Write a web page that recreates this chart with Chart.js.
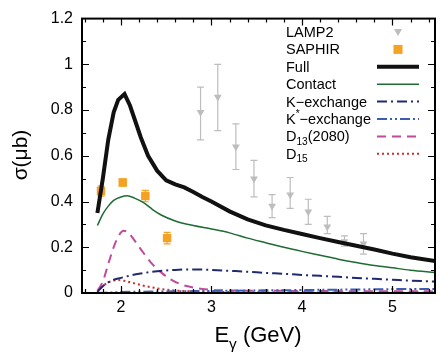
<!DOCTYPE html>
<html>
<head>
<meta charset="utf-8">
<script src="https://cdn.jsdelivr.net/npm/chart.js@4.4.1/dist/chart.umd.min.js"></script>
<style>
    body { margin: 0; background: #fff; }
    #sigmaChart { display: block; }
</style>
</head>
<body>
<canvas id="sigmaChart" width="441" height="354"></canvas>
<script>
// axis ticks
const xTicks = [2, 3, 4, 5];
const yTicks = [0, 0.2, 0.4, 0.6, 0.8, 1, 1.2];

// model curves (E_gamma in GeV, sigma in microbarn)
const fullX = [1.74, 1.8, 1.86, 1.92, 1.97, 2.04, 2.1, 2.16, 2.22, 2.3, 2.4, 2.5, 2.6, 2.7, 2.8, 2.9, 3.0, 3.2, 3.4, 3.6, 3.8, 4.0, 4.2, 4.4, 4.6, 4.8, 5.0, 5.2, 5.47];
const fullY = [0.35, 0.5, 0.67, 0.79, 0.845, 0.87, 0.82, 0.75, 0.68, 0.6, 0.535, 0.493, 0.475, 0.462, 0.442, 0.42, 0.4, 0.357, 0.322, 0.296, 0.276, 0.258, 0.24, 0.223, 0.207, 0.19, 0.172, 0.156, 0.14];

const contactX = [1.74, 1.8, 1.86, 1.92, 2.0, 2.07, 2.15, 2.25, 2.35, 2.45, 2.6, 2.8, 3.0, 3.2, 3.4, 3.6, 3.8, 4.0, 4.2, 4.4, 4.6, 4.8, 5.0, 5.2, 5.47];
const contactY = [0.295, 0.345, 0.38, 0.405, 0.42, 0.425, 0.415, 0.395, 0.365, 0.34, 0.315, 0.295, 0.28, 0.263, 0.24, 0.22, 0.2, 0.182, 0.165, 0.148, 0.133, 0.12, 0.11, 0.1, 0.09];

const kExX = [1.74, 1.8, 1.9, 2.0, 2.1, 2.2, 2.4, 2.6, 2.8, 3.0, 3.2, 3.4, 3.6, 3.8, 4.0, 4.2, 4.4, 4.6, 4.8, 5.0, 5.2, 5.47];
const kExY = [0.005, 0.03, 0.055, 0.066, 0.076, 0.084, 0.095, 0.101, 0.103, 0.101, 0.097, 0.093, 0.088, 0.084, 0.079, 0.075, 0.071, 0.066, 0.062, 0.058, 0.054, 0.05];

const kStarX = [1.74, 2.0, 2.5, 3.0, 3.5, 4.0, 4.5, 5.0, 5.47];
const kStarY = [0.0, 0.004, 0.007, 0.009, 0.011, 0.013, 0.015, 0.017, 0.018];

const d13X = [1.74, 1.8, 1.87, 1.95, 2.03, 2.08, 2.15, 2.25, 2.35, 2.45, 2.55, 2.65, 2.75, 2.9, 3.1, 3.5, 4.0, 4.5, 5.0, 5.47];
const d13Y = [0.01, 0.05, 0.14, 0.23, 0.272, 0.265, 0.23, 0.175, 0.125, 0.088, 0.06, 0.04, 0.028, 0.018, 0.012, 0.01, 0.009, 0.008, 0.008, 0.007];

const d15X = [1.74, 1.8, 1.88, 1.97, 2.05, 2.15, 2.25, 2.35, 2.45, 2.6, 2.8, 3.0, 3.5, 4.0, 5.47];
const d15Y = [0.005, 0.03, 0.05, 0.057, 0.052, 0.042, 0.032, 0.024, 0.017, 0.011, 0.007, 0.005, 0.003, 0.002, 0.001];

// data points
const lampX = [2.88, 3.07, 3.27, 3.47, 3.67, 3.87, 4.07, 4.28, 4.47, 4.68];
const lampY = [0.79, 0.857, 0.64, 0.50, 0.38, 0.43, 0.355, 0.29, 0.225, 0.215];
const lampLo = [0.67, 0.71, 0.54, 0.42, 0.33, 0.37, 0.30, 0.26, 0.205, 0.17];
const lampHi = [0.90, 1.0, 0.74, 0.58, 0.43, 0.505, 0.41, 0.335, 0.25, 0.26];

const saphirX = [1.78, 2.02, 2.27, 2.51];
const saphirY = [0.445, 0.483, 0.424, 0.24];
const saphirErr = [0.022, 0.015, 0.025, 0.025];

const FONT = '"Liberation Sans", Arial, Helvetica, sans-serif';

function toPoints(xs, ys) {
    let pts = new Array();
    for (let i = 0; i < xs.length; i++) {
        pts.push({ x: xs[i], y: ys[i] });
    }
    return pts;
}

function curve(label, xs, ys, color, width, dash, smooth) {
    return {
        type: 'line',
        label: label,
        data: toPoints(xs, ys),
        borderColor: color,
        borderWidth: width,
        borderDash: dash,
        pointRadius: 0,
        fill: false,
        tension: 0,
        cubicInterpolationMode: smooth ? 'monotone' : 'default'
    };
}

const styles = {
    lamp: '#bdbdbd',
    saphir: '#f4a224',
    full: '#111111',
    contact: '#1e6b34',
    kex: '#1f2a72',
    kstar: '#3d5db5',
    d13: '#c04a9c',
    d15: '#d42a2a'
};

// draws text with sub/superscript pieces: [text, mode] where mode is '', 'sub' or 'sup'
function drawRich(ctx, parts, x, y, size) {
    let cx = x;
    parts.forEach(function (p) {
        let s = p[1] ? size * 0.7 : size;
        let dy = p[1] === 'sub' ? size * 0.3 : (p[1] === 'sup' ? -size * 0.4 : 0);
        ctx.font = s + 'px ' + FONT;
        ctx.fillText(p[0], cx, y + dy);
        cx += ctx.measureText(p[0]).width;
    });
    return cx - x;
}

function richWidth(ctx, parts, size) {
    let w = 0;
    parts.forEach(function (p) {
        ctx.font = (p[1] ? size * 0.7 : size) + 'px ' + FONT;
        w += ctx.measureText(p[0]).width;
    });
    return w;
}

const legendItems = [
    { parts: [['LAMP2', '']], kind: 'tri', color: styles.lamp },
    { parts: [['SAPHIR', '']], kind: 'sq', color: styles.saphir },
    { parts: [['Full', '']], kind: 'line', color: styles.full, width: 4, dash: [] },
    { parts: [['Contact', '']], kind: 'line', color: styles.contact, width: 1.5, dash: [] },
    { parts: [['K\u2212exchange', '']], kind: 'line', color: styles.kex, width: 2, dash: [10, 4, 2, 4] },
    { parts: [['K', ''], ['*', 'sup'], ['\u2212exchange', '']], kind: 'line', color: styles.kstar, width: 2, dash: [10, 3, 2, 3, 2, 3] },
    { parts: [['D', ''], ['13', 'sub'], ['(2080)', '']], kind: 'line', color: styles.d13, width: 2, dash: [9, 6] },
    { parts: [['D', ''], ['15', 'sub']], kind: 'line', color: styles.d15, width: 2, dash: [2, 3] }
];

const decorPlugin = {
    id: 'decor',
    beforeDatasetsDraw(chart) {
        const ctx = chart.ctx;
        const xs = chart.scales.x, ys = chart.scales.y;
        ctx.save();
        // error bars
        ctx.lineWidth = 1.2;
        ctx.strokeStyle = styles.lamp;
        for (let i = 0; i < lampX.length; i++) {
            let px = xs.getPixelForValue(lampX[i]);
            let top = ys.getPixelForValue(lampHi[i]);
            let bot = ys.getPixelForValue(lampLo[i]);
            ctx.beginPath();
            ctx.moveTo(px, top); ctx.lineTo(px, bot);
            ctx.moveTo(px - 3.5, top); ctx.lineTo(px + 3.5, top);
            ctx.moveTo(px - 3.5, bot); ctx.lineTo(px + 3.5, bot);
            ctx.stroke();
        }
        ctx.strokeStyle = styles.saphir;
        for (let i = 0; i < saphirX.length; i++) {
            let px = xs.getPixelForValue(saphirX[i]);
            let top = ys.getPixelForValue(saphirY[i] + saphirErr[i]);
            let bot = ys.getPixelForValue(saphirY[i] - saphirErr[i]);
            ctx.beginPath();
            ctx.moveTo(px, top); ctx.lineTo(px, bot);
            ctx.moveTo(px - 3.5, top); ctx.lineTo(px + 3.5, top);
            ctx.moveTo(px - 3.5, bot); ctx.lineTo(px + 3.5, bot);
            ctx.stroke();
        }
        ctx.restore();
    },
    afterDraw(chart) {
        const ctx = chart.ctx;
        const a = chart.chartArea;
        const xs = chart.scales.x, ys = chart.scales.y;
        ctx.save();
        // frame
        ctx.strokeStyle = '#000';
        ctx.lineWidth = 2;
        ctx.setLineDash([]);
        ctx.strokeRect(a.left, a.top, a.right - a.left, a.bottom - a.top);

        // inward ticks on all four sides
        ctx.lineWidth = 1.2;
        ctx.beginPath();
        for (let v = 1.6; v < 5.47; v += 0.2) {
            let major = xTicks.some(t => Math.abs(t - v) < 1e-6);
            let len = major ? 7 : 4;
            let px = Math.round(xs.getPixelForValue(v)) + 0.5;
            ctx.moveTo(px, a.bottom); ctx.lineTo(px, a.bottom - len);
            ctx.moveTo(px, a.top); ctx.lineTo(px, a.top + len);
        }
        for (let k = 1; k < 12; k++) {
            let v = k / 10;
            let len = (k % 2 === 0) ? 7 : 4;
            let py = Math.round(ys.getPixelForValue(v)) + 0.5;
            ctx.moveTo(a.left, py); ctx.lineTo(a.left + len, py);
            ctx.moveTo(a.right, py); ctx.lineTo(a.right - len, py);
        }
        ctx.stroke();

        // axis titles
        ctx.fillStyle = '#000';
        ctx.textBaseline = 'alphabetic';
        ctx.textAlign = 'left';
        const xt = [['E', ''], ['\u03b3', 'sub'], [' (GeV)', '']];
        let w = richWidth(ctx, xt, 22);
        drawRich(ctx, xt, 258 - w / 2, 342, 22);

        ctx.save();
        ctx.translate(27, 155);
        ctx.rotate(-Math.PI / 2);
        ctx.font = '21px ' + FONT;
        ctx.textAlign = 'center';
        ctx.fillText('\u03c3(\u03bcb)', 0, 0);
        ctx.restore();

        // legend: text on the left, sample on the right
        const lx = 286, sx0 = 377, sx1 = 419;
        legendItems.forEach(function (item, i) {
            let cy = 32 + i * 17.4;
            ctx.fillStyle = '#000';
            ctx.textBaseline = 'middle';
            ctx.textAlign = 'left';
            drawRich(ctx, item.parts, lx, cy + 1, 14.5);
            let mx = (sx0 + sx1) / 2;
            if (item.kind === 'tri') {
                ctx.fillStyle = item.color;
                ctx.beginPath();
                ctx.moveTo(mx - 4, cy - 3);
                ctx.lineTo(mx + 4, cy - 3);
                ctx.lineTo(mx, cy + 4);
                ctx.closePath();
                ctx.fill();
            } else if (item.kind === 'sq') {
                ctx.fillStyle = item.color;
                ctx.fillRect(mx - 4.5, cy - 4.5, 9, 9);
            } else {
                ctx.strokeStyle = item.color;
                ctx.lineWidth = item.width;
                ctx.setLineDash(item.dash);
                ctx.beginPath();
                ctx.moveTo(sx0, cy); ctx.lineTo(sx1, cy);
                ctx.stroke();
                ctx.setLineDash([]);
            }
        });
        ctx.restore();
    }
};

new Chart('sigmaChart', {
    type: 'scatter',
    data: {
        datasets: [
            curve('Full', fullX, fullY, styles.full, 4, [], false),
            curve('Contact', contactX, contactY, styles.contact, 1.5, [], true),
            curve('K-exchange', kExX, kExY, styles.kex, 2, [10, 4, 2, 4], true),
            curve('K*-exchange', kStarX, kStarY, styles.kstar, 2, [10, 3, 2, 3, 2, 3], true),
            curve('D13(2080)', d13X, d13Y, styles.d13, 2, [9, 6], true),
            curve('D15', d15X, d15Y, styles.d15, 2, [2, 3], true),
            {
                label: 'LAMP2',
                data: toPoints(lampX, lampY),
                pointStyle: 'triangle',
                rotation: 180,
                pointRadius: 4.5,
                backgroundColor: styles.lamp,
                borderColor: styles.lamp,
                borderWidth: 0
            },
            {
                label: 'SAPHIR',
                data: toPoints(saphirX, saphirY),
                pointStyle: 'rect',
                pointRadius: 6,
                backgroundColor: styles.saphir,
                borderColor: styles.saphir,
                borderWidth: 0
            }
        ]
    },
    options: {
        responsive: false,
        animation: false,
        devicePixelRatio: 1,
        events: [],
        layout: { padding: { left: 0, top: 13, right: 6, bottom: 0 } },
        plugins: {
            legend: { display: false },
            tooltip: { enabled: false }
        },
        scales: {
            x: {
                type: 'linear',
                min: 1.57,
                max: 5.47,
                grid: { display: false, drawTicks: false },
                border: { display: false },
                ticks: {
                    color: '#000',
                    padding: 5,
                    font: { family: FONT, size: 16 },
                    callback: v => String(v)
                },
                afterBuildTicks: scale => { scale.ticks = xTicks.map(v => ({ value: v })); },
                afterFit: scale => { scale.height = 61; }
            },
            y: {
                type: 'linear',
                min: 0,
                max: 1.2,
                grid: { display: false, drawTicks: false },
                border: { display: false },
                ticks: {
                    color: '#000',
                    padding: 9,
                    font: { family: FONT, size: 16 },
                    callback: v => String(Math.round(v * 10) / 10)
                },
                afterBuildTicks: scale => { scale.ticks = yTicks.map(v => ({ value: v })); },
                afterFit: scale => { scale.width = 82; }
            }
        }
    },
    plugins: [decorPlugin]
});
</script>
</body>
</html>
